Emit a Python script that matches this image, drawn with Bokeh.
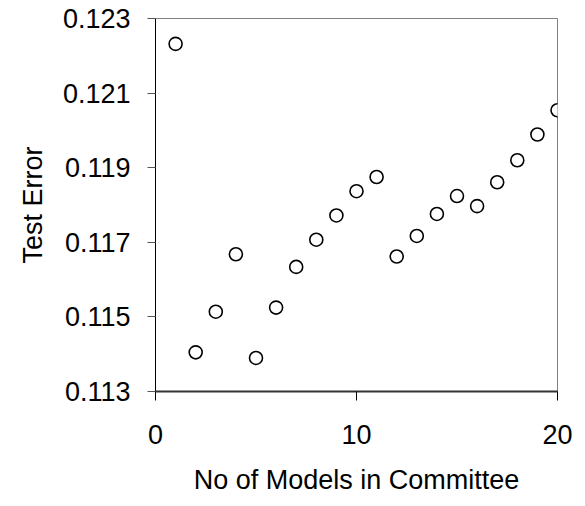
from bokeh.plotting import figure
from bokeh.models import Range1d, FixedTicker, NumeralTickFormatter
from bokeh.embed import file_html
from bokeh.resources import INLINE

models = list(range(1, 21))
test_error = [0.12232, 0.11405, 0.11514, 0.11668, 0.11390, 0.11525, 0.11634,
              0.11707, 0.11772, 0.11837, 0.11875, 0.11662, 0.11717, 0.11776,
              0.11824, 0.11797, 0.11861, 0.11920, 0.11989, 0.12054]
x_ticks = [0, 10, 20]
y_ticks = [0.113, 0.115, 0.117, 0.119, 0.121, 0.123]

p = figure(width=577, height=500, output_backend="svg", toolbar_location=None,
           x_range=Range1d(0, 20), y_range=Range1d(0.113, 0.123),
           min_border_left=155, min_border_right=20, min_border_top=18,
           min_border_bottom=109)
p.background_fill_color = "white"
p.border_fill_color = "white"
p.outline_line_color = "#808080"
p.outline_line_width = 1
p.xgrid.visible = False
p.ygrid.visible = False

p.scatter(models, test_error, marker="circle", size=13, fill_color="white",
          line_color="black", line_width=1.6)

font = "Liberation Sans"
for ax in (p.xaxis[0], p.yaxis[0]):
    ax.major_label_text_font = font
    ax.major_label_text_font_size = "27px"
    ax.major_label_text_color = "black"
    ax.axis_label_text_font = font
    ax.axis_label_text_font_size = "27px"
    ax.axis_label_text_font_style = "normal"
    ax.axis_label_text_color = "black"
    ax.minor_tick_line_color = None
    ax.major_tick_in = 0

p.xaxis.ticker = FixedTicker(ticks=x_ticks)
p.yaxis.ticker = FixedTicker(ticks=y_ticks)
p.yaxis.formatter = NumeralTickFormatter(format="0.000")
p.xaxis.axis_label = "No of Models in Committee"
p.yaxis.axis_label = "Test Error"

p.xaxis.major_tick_out = 9
p.xaxis.major_label_standoff = 24
p.xaxis.axis_label_standoff = 18
p.xaxis.axis_line_width = 2
p.xaxis.axis_line_color = "#333333"
p.xaxis.major_tick_line_color = "black"

p.yaxis.major_tick_out = 8
p.yaxis.major_label_standoff = 17
p.yaxis.axis_label_standoff = 12
p.yaxis.axis_line_width = 1
p.yaxis.axis_line_color = "black"
p.yaxis.major_tick_line_color = "#555555"

open("out.html", "w").write(file_html(p, INLINE))
